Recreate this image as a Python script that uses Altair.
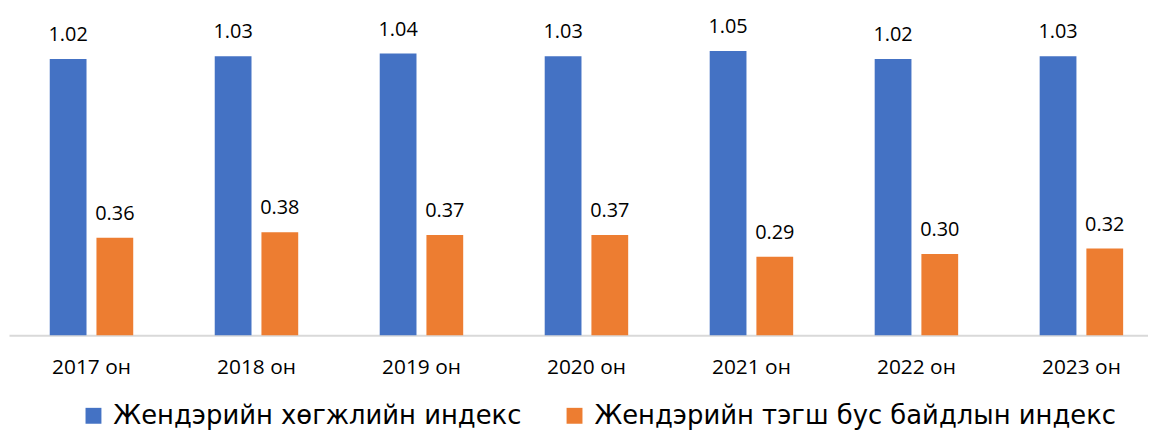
import altair as alt
import pandas as pd

years = ["2017 он", "2018 он", "2019 он", "2020 он", "2021 он", "2022 он", "2023 он"]
series_names = ["Жендэрийн хөгжлийн индекс", "Жендэрийн тэгш бус байдлын индекс"]
gdi = [1.02, 1.03, 1.04, 1.03, 1.05, 1.02, 1.03]
gii = [0.36, 0.38, 0.37, 0.37, 0.29, 0.30, 0.32]
colors = ["#4472C4", "#ED7D31"]

rows = []
for i, yr in enumerate(years):
    rows.append({"year": yr, "series": series_names[0], "value": gdi[i]})
    rows.append({"year": yr, "series": series_names[1], "value": gii[i]})
df = pd.DataFrame(rows)

x = alt.X(
    "year:N",
    sort=years,
    scale=alt.Scale(range=[0, 1162], paddingInner=0.494, paddingOuter=0.247),
    axis=alt.Axis(
        title=None,
        labelAngle=0,
        ticks=False,
        tickSize=0,
        labelPadding=38,
        labelBaseline="alphabetic",
        labelFont="Open Sans",
        labelFontSize=21,
        labelColor="#000000",
        domainColor="#d9d9d9",
        domainWidth=2,
    ),
)
xo = alt.XOffset(
    "series:N", sort=series_names, scale=alt.Scale(paddingInner=0.2128, paddingOuter=0)
)
y = alt.Y("value:Q", scale=alt.Scale(domain=[0, 1.2]), axis=None)
color = alt.Color(
    "series:N",
    sort=series_names,
    scale=alt.Scale(domain=series_names, range=colors),
    legend=alt.Legend(
        title=None,
        orient="none",
        legendX=72,
        legendY=395,
        direction="horizontal",
        padding=0,
        symbolType="square",
        symbolSize=256,
        symbolStrokeWidth=0,
        symbolOpacity=1,
        labelOffset=7,
        columnPadding=40,
        labelLimit=1000,
        labelFont="DejaVu Sans",
        labelFontSize=26,
        labelColor="#000000",
    ),
)

bars = alt.Chart(df).mark_bar().encode(x=x, xOffset=xo, y=y, color=color)
labels = alt.Chart(df).mark_text(
    dy=-18, baseline="alphabetic", font="Open Sans", fontSize=20, color="#000000"
).encode(x=x, xOffset=xo, y=y, text=alt.Text("value:Q", format=".2f"))

chart = (
    (bars + labels)
    .properties(
        width=1146,
        height=327,
        padding={"left": 1, "top": 1, "right": 0, "bottom": 94},
        autosize=alt.AutoSizeParams(type="none"),
    )
    .configure_view(strokeWidth=0)
)

chart.save("out.html", embed_options={"renderer": "svg", "actions": False})
